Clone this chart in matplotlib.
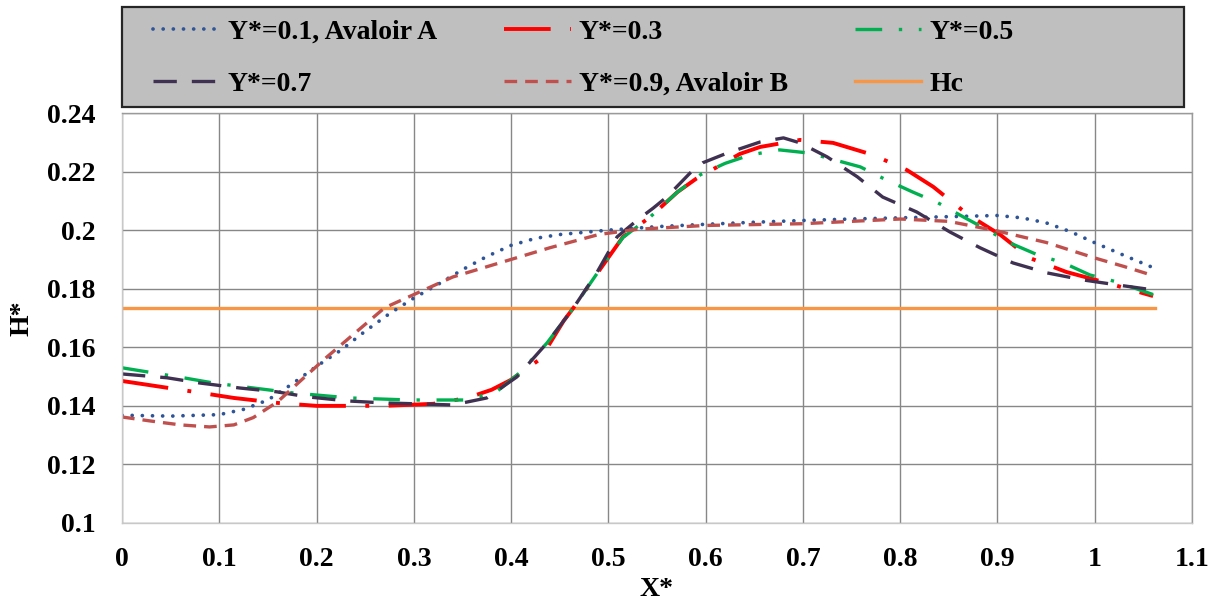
import matplotlib.pyplot as plt
from matplotlib.patches import Rectangle

plt.rcParams['font.family'] = ['Liberation Serif', 'DejaVu Serif']
plt.rcParams['font.weight'] = 'bold'

# Y*=0.1, Avaloir A
x_01 = [0, 0.05, 0.1, 0.125, 0.15, 0.175, 0.2, 0.225, 0.25, 0.275, 0.3, 0.325, 0.35, 0.375,
        0.4, 0.425, 0.45, 0.5, 0.55, 0.6, 0.65, 0.7, 0.75, 0.8, 0.85, 0.9, 0.925, 0.95,
        0.975, 1.0, 1.03, 1.06]
h_01 = [0.1368, 0.1365, 0.1370, 0.1388, 0.1420, 0.1475, 0.1535, 0.1590, 0.1655, 0.1715,
        0.1768, 0.1815, 0.1865, 0.1910, 0.1948, 0.1972, 0.1985, 0.2000, 0.2012, 0.2020,
        0.2027, 0.2033, 0.2038, 0.2042, 0.2046, 0.2050, 0.2042, 0.2025, 0.1995, 0.1957,
        0.1914, 0.1872]

# Y*=0.3
x_03 = [0, 0.04, 0.08, 0.115, 0.16, 0.2, 0.27, 0.32, 0.355, 0.38, 0.4, 0.43, 0.454, 0.464,
        0.491, 0.515, 0.543, 0.571, 0.59, 0.612, 0.635, 0.656, 0.697, 0.731, 0.772, 0.807,
        0.834, 0.87, 0.903, 0.933, 0.971, 1.009, 1.06]
h_03 = [0.1485, 0.1465, 0.1445, 0.1427, 0.1410, 0.1400, 0.1400, 0.1407, 0.1427, 0.1455,
        0.1489, 0.1560, 0.1690, 0.1734, 0.1864, 0.1977, 0.2045, 0.2130, 0.2175, 0.2216,
        0.2260, 0.2284, 0.2308, 0.2298, 0.2257, 0.2205, 0.2148, 0.2052, 0.1984, 0.1905,
        0.1857, 0.1823, 0.1775]

# Y*=0.5
x_05 = [0, 0.063, 0.094, 0.176, 0.234, 0.296, 0.354, 0.385, 0.409, 0.437, 0.454, 0.464,
        0.49, 0.515, 0.543, 0.571, 0.595, 0.62, 0.646, 0.676, 0.707, 0.759, 0.786, 0.813,
        0.839, 0.865, 0.89, 0.913, 0.941, 0.968, 0.995, 1.023, 1.06]
h_05 = [0.1530, 0.1496, 0.1478, 0.1444, 0.1427, 0.1420, 0.1420, 0.1448, 0.1513, 0.1615,
        0.1690, 0.1734, 0.1860, 0.1975, 0.2045, 0.2130, 0.2190, 0.2228, 0.2257, 0.2274,
        0.2263, 0.2216, 0.2171, 0.2130, 0.2093, 0.2045, 0.2000, 0.1956, 0.1916, 0.1888,
        0.1847, 0.1823, 0.1780]

# Y*=0.7
x_07 = [0, 0.046, 0.08, 0.121, 0.159, 0.19, 0.231, 0.269, 0.303, 0.34, 0.375, 0.406, 0.437,
        0.454, 0.464, 0.488, 0.509, 0.53, 0.546, 0.56, 0.584, 0.597, 0.622, 0.656, 0.68,
        0.697, 0.725, 0.756, 0.782, 0.817, 0.851, 0.882, 0.916, 0.951, 0.988, 1.023, 1.06]
h_07 = [0.1509, 0.1496, 0.1478, 0.1461, 0.1448, 0.1431, 0.1417, 0.1410, 0.1407, 0.1403,
        0.1427, 0.1499, 0.1615, 0.1690, 0.1734, 0.1854, 0.1977, 0.2035, 0.2075, 0.2113,
        0.2195, 0.2230, 0.2263, 0.2301, 0.2315, 0.2298, 0.2250, 0.2182, 0.2113, 0.2062,
        0.1994, 0.1940, 0.1888, 0.1854, 0.1830, 0.1813, 0.1796]

# Y*=0.9, Avaloir B
x_09 = [0, 0.03, 0.06, 0.09, 0.115, 0.135, 0.16, 0.185, 0.21, 0.24, 0.27, 0.3, 0.34, 0.39,
        0.44, 0.49, 0.53, 0.6, 0.7, 0.8, 0.85, 0.9, 0.95, 1.0, 1.03, 1.06]
h_09 = [0.1362, 0.1348, 0.1335, 0.1328, 0.1335, 0.1360, 0.1414, 0.1490, 0.1565, 0.1650,
        0.1735, 0.1780, 0.1840, 0.1890, 0.1940, 0.1985, 0.2003, 0.2016, 0.2022, 0.2038,
        0.2030, 0.1997, 0.1958, 0.1905, 0.1876, 0.1845]

# Hc
x_hc = [0, 1.062]
h_hc = [0.1734, 0.1734]

labels = ['Y*=0.1, Avaloir A', 'Y*=0.3', 'Y*=0.5', 'Y*=0.7', 'Y*=0.9, Avaloir B', 'Hc']
x_ticks = [0, 0.1, 0.2, 0.3, 0.4, 0.5, 0.6, 0.7, 0.8, 0.9, 1, 1.1]
x_tick_labels = ['0', '0.1', '0.2', '0.3', '0.4', '0.5', '0.6', '0.7', '0.8', '0.9', '1', '1.1']
y_ticks = [0.1, 0.12, 0.14, 0.16, 0.18, 0.2, 0.22, 0.24]
y_tick_labels = ['0.1', '0.12', '0.14', '0.16', '0.18', '0.2', '0.22', '0.24']

fig = plt.figure(figsize=(12.18, 6.01), dpi=100)
ax = fig.add_axes([122 / 1218, 1 - 523 / 601, (1192 - 122) / 1218, (523 - 113) / 601])

l1, = ax.plot(x_01, h_01, color='#2F5597', lw=2.7, dashes=(0.01, 2.7), dash_capstyle='round')
l2, = ax.plot(x_03, h_03, color='#FF0000', lw=2.8, dashes=(12, 5, 1, 5))
l3, = ax.plot(x_05, h_05, color='#00B050', lw=2.4, dashes=(8, 5, 1, 5))
l4, = ax.plot(x_07, h_07, color='#3F3151', lw=2.4, dashes=(7, 4.5))
l5, = ax.plot(x_09, h_09, color='#C0504D', lw=2.4, dashes=(3.8, 2.4))
l6, = ax.plot(x_hc, h_hc, color='#F79646', lw=2.4, zorder=1.5)

ax.set_xlim(0, 1.1)
ax.set_ylim(0.1, 0.24)
ax.set_xticks(x_ticks)
ax.set_xticklabels(x_tick_labels)
ax.set_yticks(y_ticks)
ax.set_yticklabels(y_tick_labels)
ax.tick_params(length=0, labelsize=20)
ax.tick_params(axis='y', pad=19)
ax.tick_params(axis='x', pad=17)
ax.grid(True, color='#878787', lw=1.0, zorder=0)
ax.set_axisbelow(True)
for side in ['left', 'bottom']:
    ax.spines[side].set_color('#C8C8C8')
for side in ['top', 'right']:
    ax.spines[side].set_color('#9A9A9A')
for sp in ax.spines.values():
    sp.set_linewidth(1.0)

ax.set_xlabel('X*', fontsize=20, fontweight='bold')
ax.xaxis.set_label_coords((657 - 122) / 1070, -(590 - 523) / 410)
ax.set_ylabel('H*', fontsize=20, fontweight='bold')
ax.yaxis.set_label_coords(-(122 - 22) / 1070, (523 - 318) / 410)
ax.xaxis.label.set_va('center')
ax.yaxis.label.set_va('center')

# legend box
box = Rectangle((122 / 1218, 1 - 107 / 601), (1184 - 122) / 1218, 100 / 601,
                transform=fig.transFigure, facecolor='#BFBFBF', edgecolor='#262626',
                lw=1.6, zorder=0)
fig.patches.append(box)
# row-wise order for a 3-column legend
handles = [l1, l4, l2, l5, l3, l6]
order_labels = [labels[0], labels[3], labels[1], labels[4], labels[2], labels[5]]
leg = fig.legend(handles, order_labels, ncol=3,
                 loc='center left', bbox_to_anchor=(128 / 1218, 1 - 58 / 601),
                 frameon=False, handlelength=2.4, handletextpad=0.3,
                 columnspacing=2.4, labelspacing=0.95,
                 prop={'family': 'Liberation Serif', 'weight': 'bold', 'size': 20})

fig.savefig('out.png', dpi=100)
